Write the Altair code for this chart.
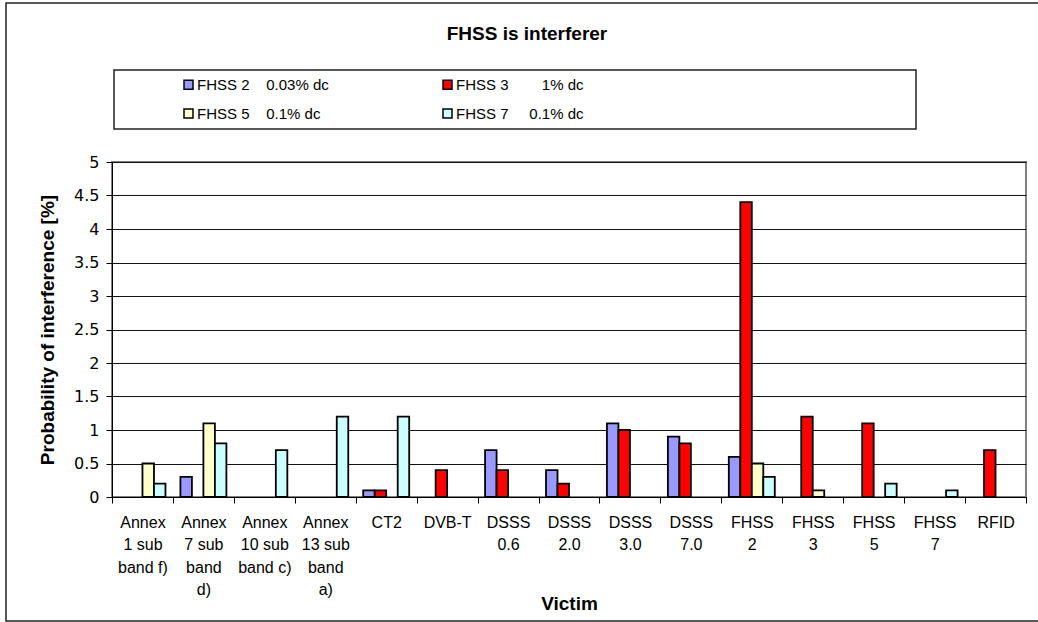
import altair as alt
import pandas as pd

# Victim systems (x categories), with the wrapped axis text for each one
victims = [
    "Annex 1 sub band f)", "Annex 7 sub band d)", "Annex 10 sub band c)",
    "Annex 13 sub band a)", "CT2", "DVB-T", "DSSS 0.6", "DSSS 2.0",
    "DSSS 3.0", "DSSS 7.0", "FHSS 2", "FHSS 3", "FHSS 5", "FHSS 7", "RFID",
]
victim_lines = [
    ["Annex", "1 sub", "band f)"], ["Annex", "7 sub", "band", "d)"],
    ["Annex", "10 sub", "band c)"], ["Annex", "13 sub", "band", "a)"],
    ["CT2"], ["DVB-T"], ["DSSS", "0.6"], ["DSSS", "2.0"], ["DSSS", "3.0"],
    ["DSSS", "7.0"], ["FHSS", "2"], ["FHSS", "3"], ["FHSS", "5"],
    ["FHSS", "7"], ["RFID"],
]

# Interferers and their duty cycles
interferers = ["FHSS 2", "FHSS 3", "FHSS 5", "FHSS 7"]
duty_cycles = ["0.03% dc", "1% dc", "0.1% dc", "0.1% dc"]

# Probability of interference [%] per victim, one list per interferer
fhss2 = [0, 0.3, 0, 0, 0.1, 0, 0.7, 0.4, 1.1, 0.9, 0.6, 0, 0, 0, 0]
fhss3 = [0, 0, 0, 0, 0.1, 0.4, 0.4, 0.2, 1.0, 0.8, 4.4, 1.2, 1.1, 0, 0.7]
fhss5 = [0.5, 1.1, 0, 0, 0, 0, 0, 0, 0, 0, 0.5, 0.1, 0, 0, 0]
fhss7 = [0.2, 0.8, 0.7, 1.2, 1.2, 0, 0, 0, 0, 0, 0.3, 0, 0.2, 0.1, 0]

colors = ["#9999FF", "#FF0000", "#FFFFCC", "#CCFFFF"]
y_ticks = [0, 0.5, 1, 1.5, 2, 2.5, 3, 3.5, 4, 4.5, 5]

FONT = "Liberation Sans"
NBSP = "\u00a0"
W, H = 914, 335

# Legend entries: name, a run of fixed spaces, duty cycle
gaps = [4, 8, 4, 5]
legend_labels = [f"{n}{NBSP * g}{d}" for n, g, d in zip(interferers, gaps, duty_cycles)]
x_labels = ["\n".join(lines) for lines in victim_lines]

rows = []
for series, label in zip([fhss2, fhss3, fhss5, fhss7], legend_labels):
    for xl, v in zip(x_labels, series):
        if v > 0:
            rows.append({"Victim": xl, "Interferer": label, "Probability": v})
df = pd.DataFrame(rows)

bars = alt.Chart(df).mark_bar(stroke="black", strokeWidth=1.8).encode(
    x=alt.X(
        "Victim:N",
        sort=x_labels,
        scale=alt.Scale(domain=x_labels, paddingInner=0, paddingOuter=0),
        axis=alt.Axis(
            title="Victim", labelAngle=0,
            labelExpr="split(datum.label, '\\n')",
            labelFont=FONT, labelFontSize=16, labelColor="black",
            labelLineHeight=22.5, labelPadding=11,
            tickBand="extent", tickSize=6, tickColor="black",
            domainColor="black", grid=False,
            titleFont=FONT, titleFontSize=19, titleFontWeight="bold",
            titleColor="black", titleX=W / 2, titleY=112,
            titleBaseline="alphabetic",
        ),
    ),
    xOffset=alt.XOffset(
        "Interferer:N",
        scale=alt.Scale(domain=legend_labels, paddingInner=0, paddingOuter=0.65),
    ),
    y=alt.Y(
        "Probability:Q",
        scale=alt.Scale(domain=[0, 5], nice=False),
        axis=alt.Axis(
            title="Probability of interference [%]",
            values=y_ticks, format="~g",
            labelFont="DejaVu Sans", labelFontSize=16, labelColor="black",
            labelPadding=7,
            tickSize=6, tickColor="black", domainColor="black",
            grid=True, gridColor="#111", gridWidth=1,
            titleFont=FONT, titleFontSize=19, titleFontWeight="bold",
            titleColor="black", titleX=-65, titleY=H / 2,
            titleBaseline="middle",
        ),
    ),
    color=alt.Color(
        "Interferer:N",
        scale=alt.Scale(domain=legend_labels, range=colors),
        legend=alt.Legend(
            title=None, orient="none", legendX=69, legendY=-85,
            direction="horizontal",
            columns=2, columnPadding=111, rowPadding=13, padding=0,
            symbolType="square", symbolSize=81,
            symbolStrokeColor="black", symbolStrokeWidth=1.5,
            labelFont=FONT, labelFontSize=15, labelColor="black",
            labelOffset=1,
        ),
    ),
)

blank = alt.Data(values=[{}])

# Outer frame of the chart
frame = alt.Chart(blank).mark_rect(
    fill="white", fillOpacity=0, stroke="#222", strokeWidth=1.5
).encode(x=alt.value(-106), x2=alt.value(960), y=alt.value(-159), y2=alt.value(459))

# Box around the legend entries
legend_box = alt.Chart(blank).mark_rect(
    fill="white", fillOpacity=0, stroke="#222", strokeWidth=1.5
).encode(x=alt.value(2), x2=alt.value(804), y=alt.value(-92), y2=alt.value(-33))

title = alt.Chart(blank).mark_text(
    text="FHSS is interferer", font=FONT, fontSize=19, fontWeight="bold",
    align="center", baseline="alphabetic", color="black",
).encode(x=alt.value(415), y=alt.value(-122))

chart = alt.layer(frame, legend_box, title, bars).properties(
    width=W, height=H,
    autosize=alt.AutoSizeParams(type="none"),
    padding={"left": 112, "top": 162, "right": 12, "bottom": 125},
    background="white",
).configure_view(stroke="#808080", strokeWidth=2)

chart.save("out.html", embed_options={"renderer": "svg", "actions": False})
